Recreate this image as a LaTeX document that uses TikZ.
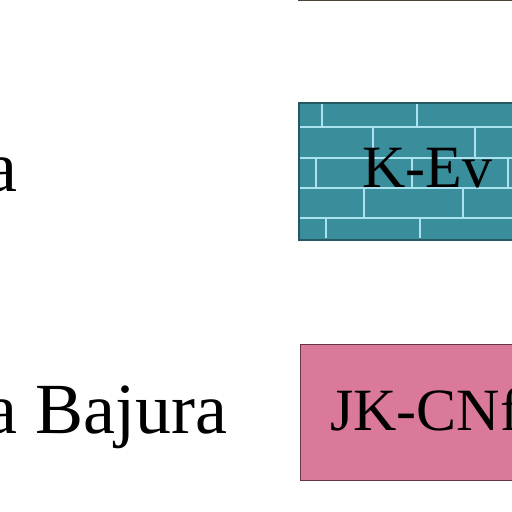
\documentclass[tikz,border=0pt]{standalone}
\usepackage{fontspec}
\setmainfont{Liberation Serif}
\definecolor{brickteal}{RGB}{58,142,156}
\definecolor{mortarblue}{RGB}{170,226,240}
\definecolor{tealedge}{RGB}{38,88,98}
\definecolor{rosefill}{RGB}{218,121,153}
\definecolor{roseedge}{RGB}{104,52,72}
\definecolor{topedge}{RGB}{74,66,52}
\tikzset{
  unitbox/.style={rectangle, inner sep=0pt, anchor=north west, minimum width=260pt, minimum height=136pt, line width=1.2pt},
  brickbox/.style={unitbox, fill=brickteal, draw=tealedge},
  rosebox/.style={unitbox, fill=rosefill, draw=roseedge},
  mortar/.style={draw=mortarblue, line width=1.6pt},
  unitlabel/.style={inner sep=0pt, anchor=base west, font=\fontsize{60}{66}\selectfont},
  namelabel/.style={inner sep=0pt, anchor=base east, font=\fontsize{72}{80}\selectfont}
}
\begin{document}
\begin{tikzpicture}[x=1pt,y=-1pt]
  \useasboundingbox (0,0) rectangle (512,512);
  \clip (0,0) rectangle (512,512);
  % bottom edge of the box above
  \coordinate (prevl) at (298,0.6);
  \coordinate (prevr) at (512,0.6);
  \draw[topedge, line width=1.4pt] (prevl) -- (prevr);
  % brick pattern box
  \node[brickbox] (kev) at (299,103) {};
  \foreach \y in {127,158,188,218}
    \draw[mortar] (300,\y) -- (560,\y);
  \foreach \x/\ya/\yb in {322/104/127, 417/104/127,
                          373/127/158, 475/127/158,
                          316/158/188, 412/158/188, 508/158/188,
                          364/188/218, 463/188/218,
                          326/218/238, 420/218/238}
    \draw[mortar] (\x,\ya) -- (\x,\yb);
  \draw[tealedge, line width=1.2pt] (kev.north west) rectangle (kev.south east);
  \node[unitlabel] (kevtext) at (362,187) {K-Ev};
  % plain box
  \node[rosebox] (jkcn) at (300,344) {};
  \node[unitlabel] (jkcntext) at (330,430) {JK-CNf};
  % names
  \node[namelabel] (namea) at (18,191) {a};
  \node[namelabel] (nameb) at (228,433) {a Bajura};
\end{tikzpicture}
\end{document}
